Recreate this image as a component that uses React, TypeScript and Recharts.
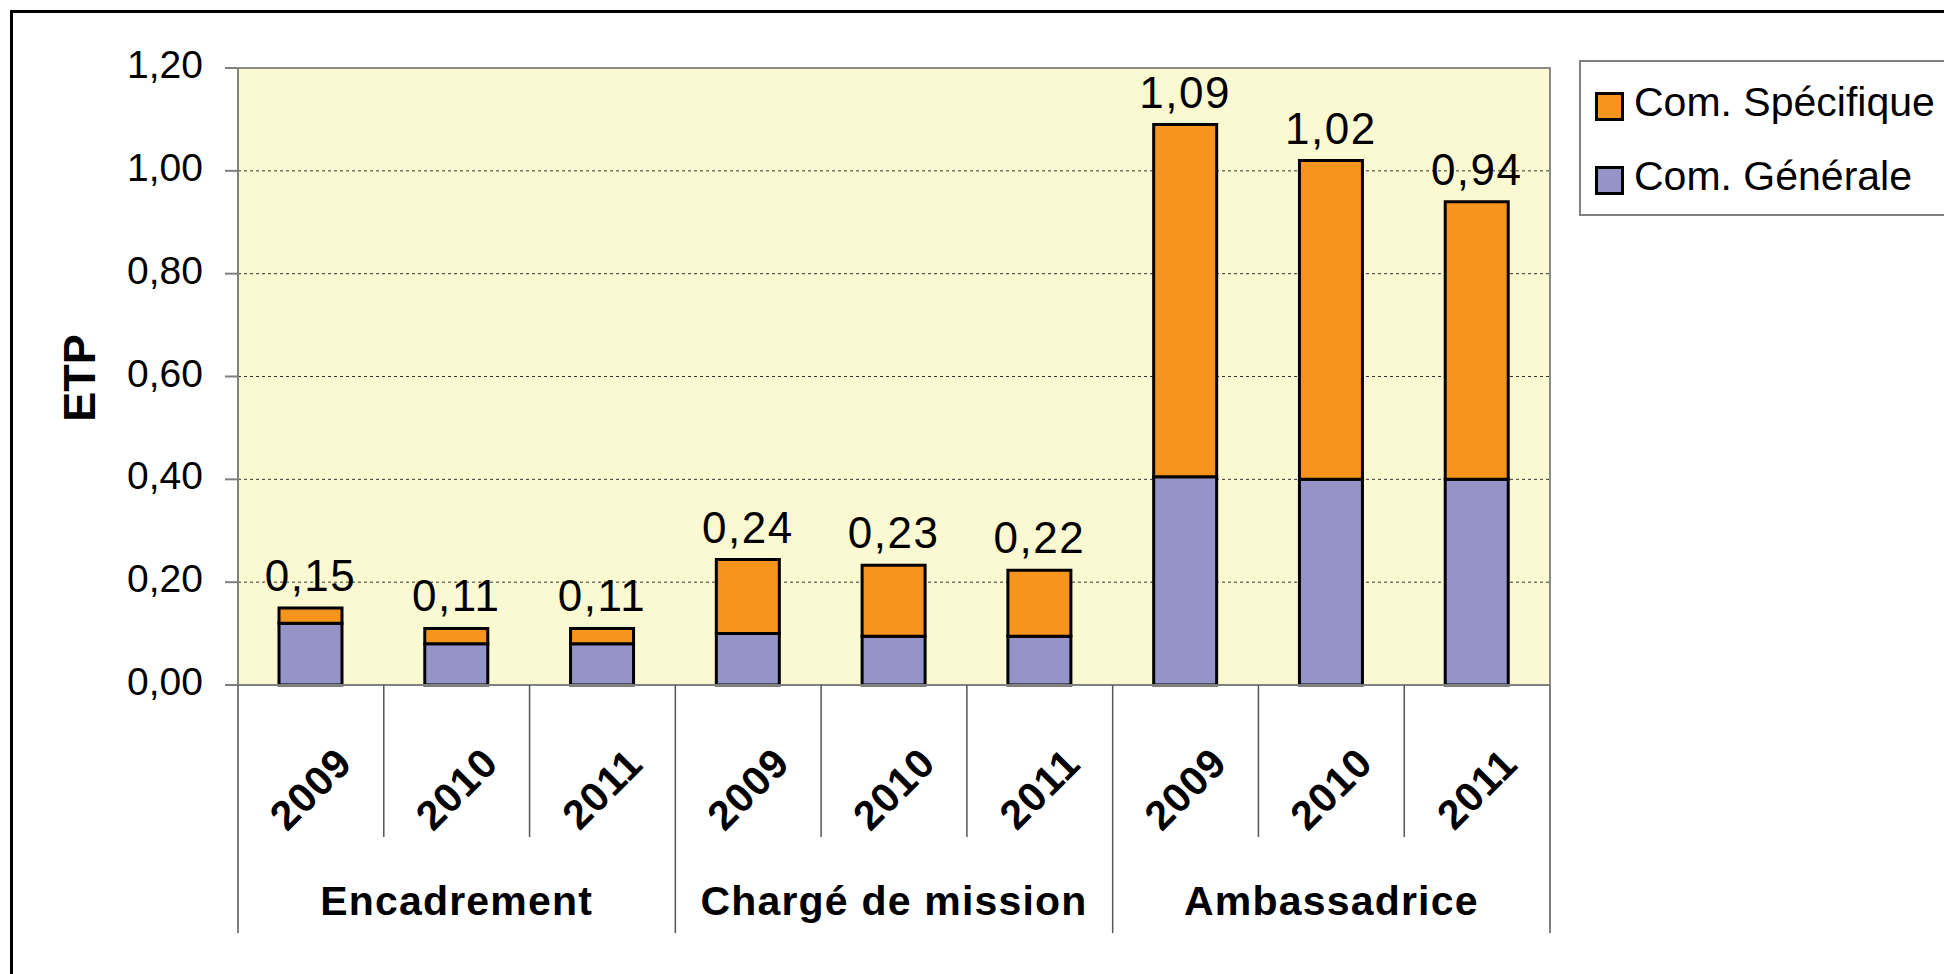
import React from 'react';
import { BarChart, Bar, XAxis, YAxis, CartesianGrid, Legend, LabelList } from 'recharts';

const years = ['2009', '2010', '2011', '2009', '2010', '2011', '2009', '2010', '2011'];
const groups = [
  'Encadrement', 'Encadrement', 'Encadrement',
  'Chargé de mission', 'Chargé de mission', 'Chargé de mission',
  'Ambassadrice', 'Ambassadrice', 'Ambassadrice',
];
const comGenerale = [0.12, 0.08, 0.08, 0.1, 0.095, 0.095, 0.405, 0.4, 0.4];
const comSpecifique = [0.03, 0.03, 0.03, 0.144, 0.138, 0.128, 0.685, 0.62, 0.54];
const totals = [0.15, 0.11, 0.11, 0.24, 0.23, 0.22, 1.09, 1.02, 0.94];
const yTicks = [0, 0.2, 0.4, 0.6, 0.8, 1.0, 1.2];

const data = years.map((y, i) => ({
  year: y,
  group: groups[i],
  generale: comGenerale[i],
  specifique: comSpecifique[i],
  total: totals[i],
}));

const W = 1944;
const H = 974;
const PLOT = { left: 238, top: 68, right: 1550, bottom: 685 };
const Y_AXIS_W = 100;
const FONT = '"Liberation Sans", Arial, sans-serif';

const fmt = (v: number) => v.toFixed(2).replace('.', ',');

function YearTick(props: any) {
  const { x, index, payload } = props;
  const band = (PLOT.right - PLOT.left) / years.length;
  const left = x - band / 2;
  const groupStart = index % 3 === 0;
  const ty = 789;
  return (
    <g>
      <line x1={left} x2={left} y1={PLOT.bottom} y2={groupStart ? 933 : 837} stroke="#555" strokeWidth={1.5} />
      {index === years.length - 1 && (
        <line x1={left + band} x2={left + band} y1={PLOT.bottom} y2={933} stroke="#555" strokeWidth={1.5} />
      )}
      <text
        x={x}
        y={ty}
        transform={`rotate(-45, ${x}, ${ty})`}
        textAnchor="middle"
        dominantBaseline="central"
        fontWeight="bold"
        fontSize={41}
        letterSpacing={1}
        fontFamily={FONT}
        fill="#000"
      >
        {payload.value}
      </text>
      {index % 3 === 1 && (
        <text x={x} y={915} textAnchor="middle" fontWeight="bold" fontSize={41} letterSpacing={1.2} fontFamily={FONT} fill="#000">
          {groups[index]}
        </text>
      )}
    </g>
  );
}

function ValueTick(props: any) {
  const { x, y, payload } = props;
  return (
    <text x={x} y={y + 10} textAnchor="end" fontSize={39} fontFamily={FONT} fill="#000">
      {fmt(payload.value)}
    </text>
  );
}

function TotalLabel(props: any) {
  const { x, y, width, value } = props;
  return (
    <text x={x + width / 2} y={y - 17} textAnchor="middle" fontSize={44} letterSpacing={1.5} fontFamily={FONT} fill="#000">
      {fmt(value)}
    </text>
  );
}

function LegendBox(props: any) {
  const items = [...(props.payload || [])].reverse();
  return (
    <div
      style={{
        border: '2px solid #808080',
        background: '#fff',
        height: 156,
        boxSizing: 'border-box',
        paddingLeft: 14,
        paddingTop: 11,
        fontFamily: FONT,
      }}
    >
      {items.map((it: any) => (
        <div key={it.value} style={{ display: 'flex', alignItems: 'center', height: 58, marginBottom: 16 }}>
          <span
            style={{
              width: 29,
              height: 29,
              boxSizing: 'border-box',
              border: '3px solid #000',
              background: it.color,
              marginRight: 10,
              marginTop: 8,
            }}
          />
          <span style={{ fontSize: 41, color: '#000', whiteSpace: 'nowrap' }}>{it.value}</span>
        </div>
      ))}
    </div>
  );
}

export default function App() {
  return (
    <div style={{ position: 'absolute', left: 0, top: 0, width: W, height: H, overflow: 'hidden', background: '#fff', fontFamily: FONT }}>
      <div
        style={{
          position: 'absolute',
          left: 10,
          top: 10,
          width: 2100,
          height: 1100,
          border: '3px solid #000',
          boxSizing: 'border-box',
        }}
      />
      <div
        style={{
          position: 'absolute',
          left: PLOT.left,
          top: PLOT.top - 1,
          width: PLOT.right - PLOT.left + 1,
          height: PLOT.bottom - PLOT.top + 1,
          background: '#FAF9D1',
          borderTop: '2px solid #8a8a8a',
          borderRight: '2px solid #8a8a8a',
          boxSizing: 'border-box',
        }}
      />
      <div style={{ position: 'absolute', left: 0, top: 0 }}>
        <BarChart
          width={W}
          height={H}
          data={data}
          margin={{ top: PLOT.top, right: W - PLOT.right, left: PLOT.left - Y_AXIS_W, bottom: 0 }}
          barSize={63}
        >
          <CartesianGrid
            horizontal
            vertical={false}
            horizontalValues={[0.2, 0.4, 0.6, 0.8, 1.0]}
            stroke="#333"
            strokeDasharray="3 3"
          />
          <XAxis
            dataKey="year"
            height={H - PLOT.bottom}
            interval={0}
            tickLine={false}
            axisLine={{ stroke: '#808080', strokeWidth: 2 }}
            tick={<YearTick />}
          />
          <YAxis
            width={Y_AXIS_W}
            domain={[0, 1.2]}
            ticks={yTicks}
            interval={0}
            tickSize={13}
            tickMargin={22}
            tickLine={{ stroke: '#808080', strokeWidth: 2 }}
            axisLine={{ stroke: '#808080', strokeWidth: 2 }}
            tick={<ValueTick />}
            label={{
              value: 'ETP',
              content: () => (
                <text
                  x={79}
                  y={378}
                  transform="rotate(-90, 79, 378)"
                  textAnchor="middle"
                  dominantBaseline="central"
                  fontWeight="bold"
                  fontSize={45}
                  fontFamily={FONT}
                  fill="#000"
                >
                  ETP
                </text>
              ),
            }}
          />
          <Legend
            layout="vertical"
            align="center"
            verticalAlign="middle"
            content={<LegendBox />}
            wrapperStyle={{ left: 1579, top: 60, width: 420, right: 'auto', bottom: 'auto' }}
          />
          <Bar dataKey="generale" name="Com. Générale" stackId="a" fill="#9494C8" stroke="#000" strokeWidth={3} isAnimationActive={false} />
          <Bar dataKey="specifique" name="Com. Spécifique" stackId="a" fill="#F7941E" stroke="#000" strokeWidth={3} isAnimationActive={false}>
            <LabelList dataKey="total" content={<TotalLabel />} />
          </Bar>
        </BarChart>
      </div>
    </div>
  );
}
